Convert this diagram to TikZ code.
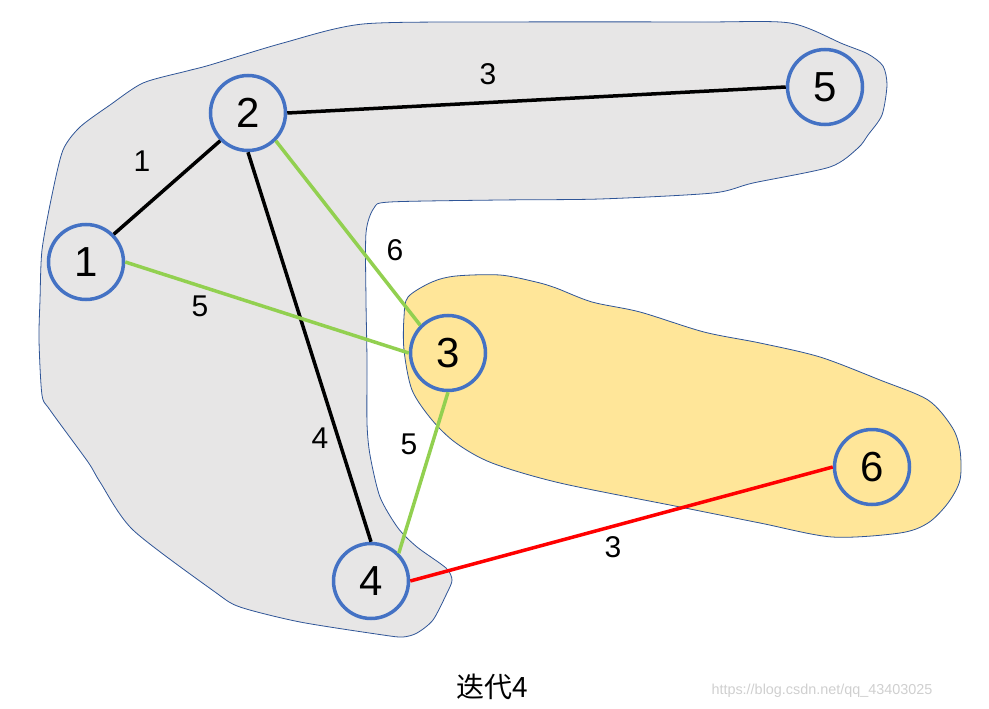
\documentclass[tikz,border=0pt]{standalone}
\usepackage{fontspec}
\setmainfont{Liberation Sans}
\newfontfamily\cjk{Noto Sans CJK SC}
\definecolor{vblue}{HTML}{4472C4}
\definecolor{grayfill}{HTML}{E7E6E6}
\definecolor{yellowfill}{HTML}{FFE699}
\definecolor{egreen}{HTML}{92D050}
\definecolor{bline}{HTML}{2F5597}
\definecolor{wmark}{HTML}{CFCFCF}
\begin{document}
\begin{tikzpicture}[x=1pt,y=-1pt,
  vtx/.style={circle,draw=vblue,line width=3.5pt,minimum size=75pt,inner sep=0pt,font=\fontsize{42}{42}\selectfont},
  edge/.style={line width=3.5pt},
  wlbl/.style={font=\fontsize{30}{30}\selectfont,inner sep=0pt},
  blob/.style={draw=bline,line width=0.8pt}]
\useasboundingbox (0,0) rectangle (989,709);
% gray cluster
\filldraw[blob,fill=grayfill] plot[smooth cycle,tension=0.45] coordinates {
 (500,22) (700,22) (790,23) (843,44) (868,54) (883,66) (887,85) (882,115) (868,135) (858,148)
 (830,167) (753,183) (713,193) (600,199) (500,200) (390,202) (374,208) (366,233) (366,300)
 (367,360) (367,423) (370,455) (380,497) (398,528) (417,547) (446,568) (452,580) (447,593)
 (433,620) (417,633) (403,637) (383,635) (300,622) (240,607) (215,592) (133,530) (100,482)
 (88,462) (50,410) (42,395) (39,340) (40,300) (42,250) (52,195) (63,150) (80,127) (110,105)
 (143,83) (187,71) (210,65) (283,43) (363,24)};
% yellow cluster
\filldraw[blob,fill=yellowfill] plot[smooth cycle,tension=0.5] coordinates {
 (408,297) (432,282) (456,276) (500,275) (536,282) (556,288) (592,302) (640,312) (704,332)
 (760,343) (820,357) (880,380) (928,400) (952,427) (960,450) (960,480) (948,503) (928,523)
 (900,533) (832,537) (760,523) (680,507) (560,483) (492,463) (456,443) (432,420) (412,390)
 (404,350) (404,317)};
% vertices
\node[vtx] (n1) at (86,262) {1};
\node[vtx] (n2) at (248,113) {2};
\node[vtx] (n3) at (448,353) {3};
\node[vtx] (n4) at (371,581) {4};
\node[vtx] (n5) at (825,87) {5};
\node[vtx] (n6) at (872,467) {6};
% edges
\draw[edge,black] (n1.north east) -- (n2.south west);
\draw[edge,black] (n2.east) -- (n5.west);
\draw[edge,black] (n2.south) -- (n4.north);
\draw[edge,egreen] (n2.south east) -- (n3.north west);
\draw[edge,egreen] (n1.east) -- (n3.west);
\draw[edge,egreen] (n3.south) -- (n4.north east);
\draw[edge,red] (n4.east) -- (n6.west);
% weights
\node[wlbl] (w12) at (142,161) {1};
\node[wlbl] (w25) at (488,74) {3};
\node[wlbl] (w23) at (395,250) {6};
\node[wlbl] (w13) at (200,306) {5};
\node[wlbl] (w24) at (320,438) {4};
\node[wlbl] (w34) at (409,444) {5};
\node[wlbl] (w46) at (613,547) {3};
% caption and watermark
\node[inner sep=0pt] (cap) at (492,687) {\cjk\fontsize{28}{28}\selectfont 迭代4};
\node[inner sep=0pt,text=wmark] (wm) at (822,691) {\fontsize{14.4}{14.4}\selectfont https://blog.csdn.net/qq\_43403025};
\end{tikzpicture}
\end{document}
